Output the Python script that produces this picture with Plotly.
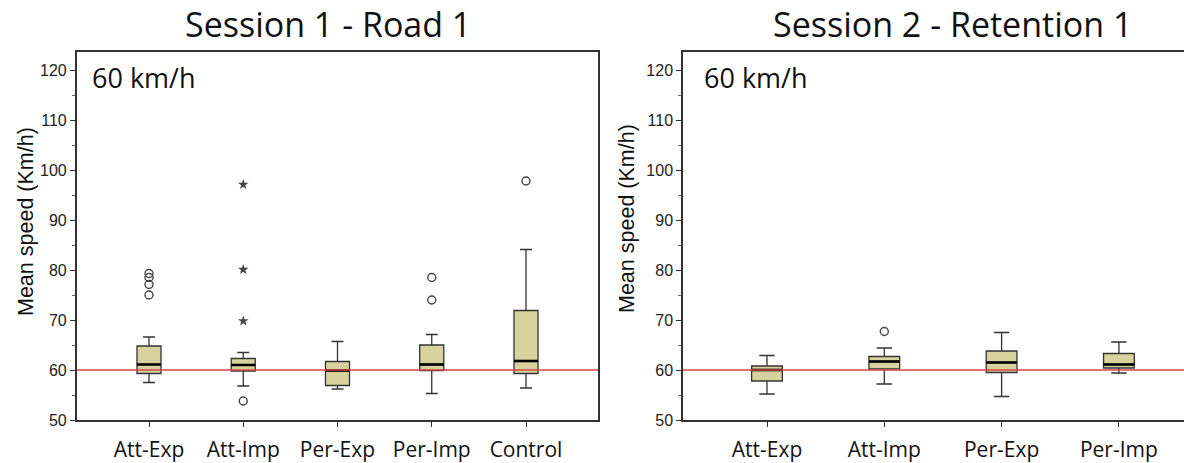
import plotly.graph_objects as go

# ---------------- data ----------------
categories_s1 = ["Att-Exp", "Att-Imp", "Per-Exp", "Per-Imp", "Control"]
lowerfence_s1 = [57.5, 56.8, 56.2, 55.3, 56.4]
q1_s1 = [59.3, 59.8, 56.9, 59.9, 59.3]
median_s1 = [61.1, 61.0, 59.9, 61.1, 61.8]
q3_s1 = [64.8, 62.3, 61.7, 65.0, 71.9]
upperfence_s1 = [66.6, 63.5, 65.7, 67.1, 84.1]
outliers_circle_s1 = [[79.3, 78.5, 77.1, 75.0], [53.8], [], [78.5, 74.0], [97.8]]
outliers_star_s1 = [[], [97.1, 80.1, 69.8], [], [], []]

categories_s2 = ["Att-Exp", "Att-Imp", "Per-Exp", "Per-Imp"]
lowerfence_s2 = [55.2, 57.2, 54.7, 59.4]
q1_s2 = [57.8, 60.2, 59.5, 60.4]
median_s2 = [60.0, 61.7, 61.5, 61.1]
q3_s2 = [60.8, 62.7, 63.8, 63.3]
upperfence_s2 = [62.9, 64.4, 67.5, 65.6]
outliers_circle_s2 = [[], [67.7], [], []]
outliers_star_s2 = [[], [], [], []]

speed_limit = 60
y_ticks = [50, 60, 70, 80, 90, 100, 110, 120]

titles = ["Session 1 - Road 1", "Session 2 - Retention 1"]
limit_label = "60 km/h"
y_title = "Mean speed (Km/h)"

# ---------------- style ----------------
W, H = 1184, 463
FILL = "#d7d29e"
EDGE = "#333333"
RED = "rgb(214,70,70)"
CAL = "Open Sans"
ARIAL = "Liberation Sans"

fig = go.Figure()


def add_panel(cats, lf, q1, med, q3, uf, oc, os_, xa, ya, bw):
    xs = list(range(len(cats)))
    fig.add_trace(go.Box(
        x=xs, q1=q1, median=med, q3=q3, lowerfence=lf, upperfence=uf,
        width=bw, whiskerwidth=0.5, fillcolor=FILL,
        line=dict(color=EDGE, width=1.3), boxpoints=False,
        xaxis=xa, yaxis=ya, showlegend=False, hoverinfo="skip"))
    # thick black medians
    for i, m in enumerate(med):
        fig.add_trace(go.Scatter(
            x=[i - bw / 2, i + bw / 2], y=[m, m], mode="lines",
            line=dict(color="black", width=2.6), xaxis=xa, yaxis=ya,
            showlegend=False, hoverinfo="skip"))
    # outliers
    cx, cy, sx, sy = [], [], [], []
    for i, vals in enumerate(oc):
        cx += [i] * len(vals); cy += vals
    for i, vals in enumerate(os_):
        sx += [i] * len(vals); sy += vals
    if cx:
        fig.add_trace(go.Scatter(
            x=cx, y=cy, mode="markers",
            marker=dict(symbol="circle-open", size=8, color="#444",
                        line=dict(width=1.4)),
            xaxis=xa, yaxis=ya, showlegend=False, hoverinfo="skip"))
    if sx:
        fig.add_trace(go.Scatter(
            x=sx, y=sy, mode="markers",
            marker=dict(symbol="star", size=8, color="#444"),
            xaxis=xa, yaxis=ya, showlegend=False, hoverinfo="skip"))
    # red speed-limit line
    fig.add_shape(type="line", xref=f"{xa} domain",
                  yref=ya, x0=0, x1=1, y0=speed_limit, y1=speed_limit,
                  line=dict(color=RED, width=1.3), layer="above")


add_panel(categories_s1, lowerfence_s1, q1_s1, median_s1, q3_s1,
          upperfence_s1, outliers_circle_s1, outliers_star_s1, "x", "y", 0.255)
add_panel(categories_s2, lowerfence_s2, q1_s2, median_s2, q3_s2,
          upperfence_s2, outliers_circle_s2, outliers_star_s2, "x2", "y2", 0.262)

top_px, bot_px = 52, 420
ph = bot_px - top_px
y_range = [50, 50 + ph / 5.0]

ax_common = dict(showgrid=False, zeroline=False, showline=True,
                 linecolor=EDGE, linewidth=1.5, ticks="outside", ticklen=5,
                 tickcolor=EDGE, tickwidth=1.2,
                 tickfont=dict(family=CAL, size=21, color="#111"),
                 ticklabelstandoff=5)
ay_common = dict(showgrid=False, zeroline=False, showline=True,
                 linecolor=EDGE, linewidth=1.5, ticks="outside", ticklen=5,
                 tickcolor=EDGE, tickwidth=1.2, range=y_range,
                 tickvals=y_ticks,
                 tickfont=dict(family=ARIAL, size=16, color="#222"),
                 minor=dict(ticks="outside", ticklen=3, dtick=5,
                            tickcolor="#666", tickwidth=1))

# panel geometry (pixels)
l1, r1 = 76.7, 598
c1, s1 = 149, 94.25
l2, r2 = 683, 1184
c2, s2 = 767, 117.3

fig.update_layout(
    width=W, height=H,
    margin=dict(l=0, r=0, t=top_px, b=H - bot_px),
    paper_bgcolor="white", plot_bgcolor="white",
    xaxis=dict(ax_common, domain=[l1 / W, r1 / W],
               range=[(l1 - c1) / s1, (r1 - c1) / s1],
               tickvals=list(range(len(categories_s1))),
               ticktext=categories_s1, mirror=True),
    yaxis=dict(ay_common, mirror=True),
    xaxis2=dict(ax_common, domain=[l2 / W, 1.0],
                range=[(l2 - c2) / s2, (r2 - c2) / s2],
                tickvals=list(range(len(categories_s2))),
                ticktext=categories_s2, mirror=True, anchor="y2"),
    yaxis2=dict(ay_common, anchor="x2"),
)


def py(pix):
    # pixel row -> paper y (paper spans plot area vertically)
    return (bot_px - pix) / ph


ann = []
for tx, t in zip([328, 952], titles):
    ann.append(dict(text=t, xref="paper", yref="paper", x=tx / W,
                    y=py(24), xanchor="center", yanchor="middle",
                    showarrow=False, font=dict(family=CAL, size=34, color="#111")))
for xr, yr, lx in [("x domain", "y domain", 13 / (r1 - l1)),
                   ("x2 domain", "y2 domain", 19 / (r2 - l2))]:
    ann.append(dict(text=limit_label, xref=xr, yref=yr, x=lx,
                    y=py(77), xanchor="left",
                    yanchor="middle", showarrow=False,
                    font=dict(family=CAL, size=27, color="#111")))
for px, cy in [(26, 222), (627, 219)]:
    ann.append(dict(text=y_title, xref="paper", yref="paper", x=px / W,
                    y=py(cy), xanchor="center", yanchor="middle",
                    textangle=-90, showarrow=False,
                    font=dict(family=ARIAL, size=21.5, color="#111")))
fig.update_layout(annotations=ann)

fig.write_html("out.html")
